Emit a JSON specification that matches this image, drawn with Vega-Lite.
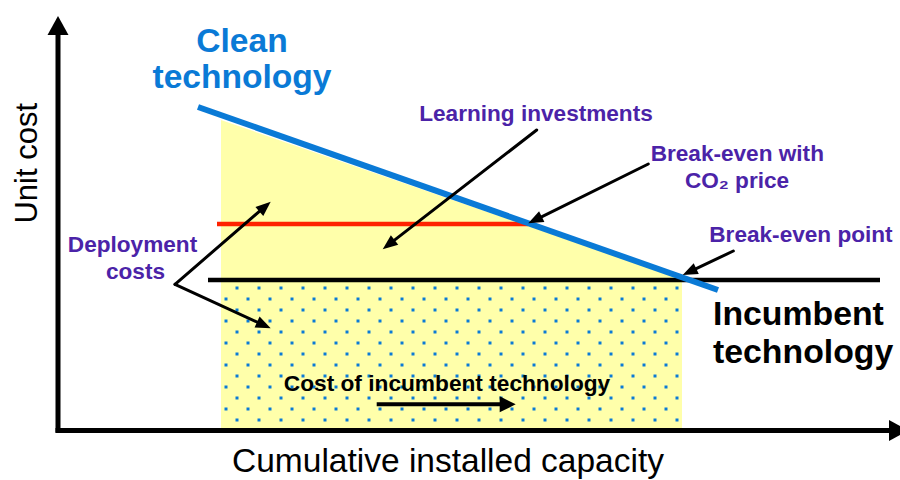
{
  "$schema": "https://vega.github.io/schema/vega-lite/v6.json",
  "width": 900,
  "height": 480,
  "autosize": {"type": "none"},
  "padding": 0,
  "background": "white",
  "config": {"view": {"stroke": null}},
  "encoding": {
    "x": {"field": "x", "type": "quantitative", "scale": {"domain": [0, 900], "nice": false, "zero": false}, "axis": null},
    "y": {"field": "y", "type": "quantitative", "scale": {"domain": [0, 480], "nice": false, "zero": false}, "axis": null}
  },
  "layer": [
    {
      "data": {"values": [{"x": 221, "y": 360, "y2": 50}, {"x": 682, "y": 201, "y2": 50}]},
      "mark": {"type": "area", "color": "#ffffaa", "opacity": 1},
      "encoding": {"y2": {"field": "y2"}}
    },
    {
      "data": {"values": [
        {"x":237,"y":192},{"x":259,"y":192},{"x":281,"y":192},{"x":303,"y":192},{"x":325,"y":192},{"x":347,"y":192},{"x":369,"y":192},{"x":391,"y":192},{"x":413,"y":192},{"x":435,"y":192},{"x":457,"y":192},{"x":479,"y":192},{"x":501,"y":192},{"x":523,"y":192},{"x":545,"y":192},{"x":567,"y":192},{"x":589,"y":192},{"x":611,"y":192},{"x":633,"y":192},{"x":655,"y":192},{"x":677,"y":192},
        {"x":226,"y":181},{"x":248,"y":181},{"x":270,"y":181},{"x":292,"y":181},{"x":314,"y":181},{"x":336,"y":181},{"x":358,"y":181},{"x":380,"y":181},{"x":402,"y":181},{"x":424,"y":181},{"x":446,"y":181},{"x":468,"y":181},{"x":490,"y":181},{"x":512,"y":181},{"x":534,"y":181},{"x":556,"y":181},{"x":578,"y":181},{"x":600,"y":181},{"x":622,"y":181},{"x":644,"y":181},{"x":666,"y":181},
        {"x":237,"y":170},{"x":259,"y":170},{"x":281,"y":170},{"x":303,"y":170},{"x":325,"y":170},{"x":347,"y":170},{"x":369,"y":170},{"x":391,"y":170},{"x":413,"y":170},{"x":435,"y":170},{"x":457,"y":170},{"x":479,"y":170},{"x":501,"y":170},{"x":523,"y":170},{"x":545,"y":170},{"x":567,"y":170},{"x":589,"y":170},{"x":611,"y":170},{"x":633,"y":170},{"x":655,"y":170},{"x":677,"y":170},
        {"x":226,"y":159},{"x":248,"y":159},{"x":270,"y":159},{"x":292,"y":159},{"x":314,"y":159},{"x":336,"y":159},{"x":358,"y":159},{"x":380,"y":159},{"x":402,"y":159},{"x":424,"y":159},{"x":446,"y":159},{"x":468,"y":159},{"x":490,"y":159},{"x":512,"y":159},{"x":534,"y":159},{"x":556,"y":159},{"x":578,"y":159},{"x":600,"y":159},{"x":622,"y":159},{"x":644,"y":159},{"x":666,"y":159},
        {"x":237,"y":148},{"x":259,"y":148},{"x":281,"y":148},{"x":303,"y":148},{"x":325,"y":148},{"x":347,"y":148},{"x":369,"y":148},{"x":391,"y":148},{"x":413,"y":148},{"x":435,"y":148},{"x":457,"y":148},{"x":479,"y":148},{"x":501,"y":148},{"x":523,"y":148},{"x":545,"y":148},{"x":567,"y":148},{"x":589,"y":148},{"x":611,"y":148},{"x":633,"y":148},{"x":655,"y":148},{"x":677,"y":148},
        {"x":226,"y":137},{"x":248,"y":137},{"x":270,"y":137},{"x":292,"y":137},{"x":314,"y":137},{"x":336,"y":137},{"x":358,"y":137},{"x":380,"y":137},{"x":402,"y":137},{"x":424,"y":137},{"x":446,"y":137},{"x":468,"y":137},{"x":490,"y":137},{"x":512,"y":137},{"x":534,"y":137},{"x":556,"y":137},{"x":578,"y":137},{"x":600,"y":137},{"x":622,"y":137},{"x":644,"y":137},{"x":666,"y":137},
        {"x":237,"y":126},{"x":259,"y":126},{"x":281,"y":126},{"x":303,"y":126},{"x":325,"y":126},{"x":347,"y":126},{"x":369,"y":126},{"x":391,"y":126},{"x":413,"y":126},{"x":435,"y":126},{"x":457,"y":126},{"x":479,"y":126},{"x":501,"y":126},{"x":523,"y":126},{"x":545,"y":126},{"x":567,"y":126},{"x":589,"y":126},{"x":611,"y":126},{"x":633,"y":126},{"x":655,"y":126},{"x":677,"y":126},
        {"x":226,"y":115},{"x":248,"y":115},{"x":270,"y":115},{"x":292,"y":115},{"x":314,"y":115},{"x":336,"y":115},{"x":358,"y":115},{"x":380,"y":115},{"x":402,"y":115},{"x":424,"y":115},{"x":446,"y":115},{"x":468,"y":115},{"x":490,"y":115},{"x":512,"y":115},{"x":534,"y":115},{"x":556,"y":115},{"x":578,"y":115},{"x":600,"y":115},{"x":622,"y":115},{"x":644,"y":115},{"x":666,"y":115},
        {"x":237,"y":104},{"x":259,"y":104},{"x":281,"y":104},{"x":303,"y":104},{"x":325,"y":104},{"x":347,"y":104},{"x":369,"y":104},{"x":391,"y":104},{"x":413,"y":104},{"x":435,"y":104},{"x":457,"y":104},{"x":479,"y":104},{"x":501,"y":104},{"x":523,"y":104},{"x":545,"y":104},{"x":567,"y":104},{"x":589,"y":104},{"x":611,"y":104},{"x":633,"y":104},{"x":655,"y":104},{"x":677,"y":104},
        {"x":226,"y":93},{"x":248,"y":93},{"x":270,"y":93},{"x":292,"y":93},{"x":314,"y":93},{"x":336,"y":93},{"x":358,"y":93},{"x":380,"y":93},{"x":402,"y":93},{"x":424,"y":93},{"x":446,"y":93},{"x":468,"y":93},{"x":490,"y":93},{"x":512,"y":93},{"x":534,"y":93},{"x":556,"y":93},{"x":578,"y":93},{"x":600,"y":93},{"x":622,"y":93},{"x":644,"y":93},{"x":666,"y":93},
        {"x":237,"y":82},{"x":259,"y":82},{"x":281,"y":82},{"x":303,"y":82},{"x":325,"y":82},{"x":347,"y":82},{"x":369,"y":82},{"x":391,"y":82},{"x":413,"y":82},{"x":435,"y":82},{"x":457,"y":82},{"x":479,"y":82},{"x":501,"y":82},{"x":523,"y":82},{"x":545,"y":82},{"x":567,"y":82},{"x":589,"y":82},{"x":611,"y":82},{"x":633,"y":82},{"x":655,"y":82},{"x":677,"y":82},
        {"x":226,"y":71},{"x":248,"y":71},{"x":270,"y":71},{"x":292,"y":71},{"x":314,"y":71},{"x":336,"y":71},{"x":358,"y":71},{"x":380,"y":71},{"x":402,"y":71},{"x":424,"y":71},{"x":446,"y":71},{"x":468,"y":71},{"x":490,"y":71},{"x":512,"y":71},{"x":534,"y":71},{"x":556,"y":71},{"x":578,"y":71},{"x":600,"y":71},{"x":622,"y":71},{"x":644,"y":71},{"x":666,"y":71},
        {"x":237,"y":60},{"x":259,"y":60},{"x":281,"y":60},{"x":303,"y":60},{"x":325,"y":60},{"x":347,"y":60},{"x":369,"y":60},{"x":391,"y":60},{"x":413,"y":60},{"x":435,"y":60},{"x":457,"y":60},{"x":479,"y":60},{"x":501,"y":60},{"x":523,"y":60},{"x":545,"y":60},{"x":567,"y":60},{"x":589,"y":60},{"x":611,"y":60},{"x":633,"y":60},{"x":655,"y":60},{"x":677,"y":60}
      ]},
      "mark": {"type": "square", "size": 9, "color": "#0a7ad6", "opacity": 1, "strokeWidth": 0}
    },
    {
      "data": {"values": [{"x": 208, "y": 200, "x2": 880, "y2": 200}]},
      "mark": {"type": "rule", "color": "#000000", "strokeWidth": 4.5},
      "encoding": {"x2": {"field": "x2"}, "y2": {"field": "y2"}}
    },
    {
      "data": {"values": [{"x": 217, "y": 256, "x2": 528, "y2": 256}]},
      "mark": {"type": "rule", "color": "#ff2200", "strokeWidth": 4.5},
      "encoding": {"x2": {"field": "x2"}, "y2": {"field": "y2"}}
    },
    {
      "data": {"values": [{"x": 198, "y": 373, "x2": 718, "y2": 190}]},
      "mark": {"type": "rule", "color": "#0a7ad6", "strokeWidth": 6},
      "encoding": {"x2": {"field": "x2"}, "y2": {"field": "y2"}}
    },
    {
      "data": {"values": [{"x": 58, "y": 47.5, "x2": 58, "y2": 454}, {"x": 55.5, "y": 49.5, "x2": 898, "y2": 49.5}]},
      "mark": {"type": "rule", "color": "#000000", "strokeWidth": 5},
      "encoding": {"x2": {"field": "x2"}, "y2": {"field": "y2"}}
    },
    {
      "data": {"values": [
        {"x": 536.7, "y": 350, "x2": 389, "y2": 235.6},
        {"x": 648.3, "y": 316, "x2": 535.5, "y2": 260.2},
        {"x": 733.3, "y": 229, "x2": 689.9, "y2": 208.4},
        {"x": 175, "y": 195.7, "x2": 264.6, "y2": 273.1},
        {"x": 175, "y": 195.7, "x2": 263.4, "y2": 155}
      ]},
      "mark": {"type": "rule", "color": "#000000", "strokeWidth": 3, "strokeCap": "round"},
      "encoding": {"x2": {"field": "x2"}, "y2": {"field": "y2"}}
    },
    {
      "data": {"values": [{"x": 376.7, "y": 75.7, "x2": 505.7, "y2": 75.7}]},
      "mark": {"type": "rule", "color": "#000000", "strokeWidth": 4},
      "encoding": {"x2": {"field": "x2"}, "y2": {"field": "y2"}}
    },
    {
      "data": {"values": [
        {"x": 382.7, "y": 230.7, "sx": 536.7, "sy": 350},
        {"x": 528.3, "y": 256.7, "sx": 648.3, "sy": 316},
        {"x": 682.7, "y": 205, "sx": 733.3, "sy": 229},
        {"x": 270.7, "y": 278.3, "sx": 175, "sy": 195.7},
        {"x": 270.7, "y": 151.7, "sx": 175, "sy": 195.7}
      ]},
      "transform": [{"calculate": "atan2(datum.x - datum.sx, datum.y - datum.sy) * 180 / PI", "as": "a"}],
      "mark": {"type": "point", "shape": "M0,0L-1,2.5L1,2.5Z", "size": 144, "filled": true, "color": "#000000", "opacity": 1, "strokeWidth": 0},
      "encoding": {"angle": {"field": "a", "type": "quantitative", "scale": null}}
    },
    {
      "data": {"values": [{"x": 515.7, "y": 75.7, "sx": 376.7, "sy": 75.7}]},
      "transform": [{"calculate": "atan2(datum.x - datum.sx, datum.y - datum.sy) * 180 / PI", "as": "a"}],
      "mark": {"type": "point", "shape": "M0,0L-1,2L1,2Z", "size": 256, "filled": true, "color": "#000000", "opacity": 1, "strokeWidth": 0},
      "encoding": {"angle": {"field": "a", "type": "quantitative", "scale": null}}
    },
    {
      "data": {"values": [{"x": 58, "y": 464, "sx": 58, "sy": 47.5}, {"x": 908, "y": 49.5, "sx": 55.5, "sy": 49.5}]},
      "transform": [{"calculate": "atan2(datum.x - datum.sx, datum.y - datum.sy) * 180 / PI", "as": "a"}],
      "mark": {"type": "point", "shape": "M0,0L-1,1.81L1,1.81Z", "size": 441, "filled": true, "color": "#000000", "opacity": 1, "strokeWidth": 0},
      "encoding": {"angle": {"field": "a", "type": "quantitative", "scale": null}}
    },
    {
      "data": {"values": [{"x": 242, "y": 428, "t": "Clean"}, {"x": 242, "y": 391.7, "t": "technology"}]},
      "mark": {"type": "text", "font": "Liberation Sans", "fontWeight": "bold", "fontSize": 33.6, "color": "#0a7ad6", "align": "center", "baseline": "alphabetic"},
      "encoding": {"text": {"field": "t"}}
    },
    {
      "data": {"values": [{"x": 713, "y": 155, "t": "Incumbent"}, {"x": 713, "y": 117, "t": "technology"}]},
      "mark": {"type": "text", "font": "Liberation Sans", "fontWeight": "bold", "fontSize": 33.8, "color": "#000000", "align": "left", "baseline": "alphabetic"},
      "encoding": {"text": {"field": "t"}}
    },
    {
      "data": {"values": [
        {"x": 536, "y": 359.3, "t": "Learning investments"},
        {"x": 737.3, "y": 319.3, "t": "Break-even with"},
        {"x": 737, "y": 291.7, "t": "CO₂ price"},
        {"x": 132.5, "y": 228.3, "t": "Deployment"},
        {"x": 135.5, "y": 200.7, "t": "costs"}
      ]},
      "mark": {"type": "text", "font": "Liberation Sans", "fontWeight": "bold", "fontSize": 22.6, "color": "#4b23a8", "align": "center", "baseline": "alphabetic"},
      "encoding": {"text": {"field": "t"}}
    },
    {
      "data": {"values": [{"x": 709.3, "y": 238.3, "t": "Break-even point"}]},
      "mark": {"type": "text", "font": "Liberation Sans", "fontWeight": "bold", "fontSize": 22.6, "color": "#4b23a8", "align": "left", "baseline": "alphabetic"},
      "encoding": {"text": {"field": "t"}}
    },
    {
      "data": {"values": [{"x": 447, "y": 89.3, "t": "Cost of incumbent technology"}]},
      "mark": {"type": "text", "font": "Liberation Sans", "fontWeight": "bold", "fontSize": 22.7, "color": "#000000", "align": "center", "baseline": "alphabetic"},
      "encoding": {"text": {"field": "t"}}
    },
    {
      "data": {"values": [{"x": 448, "y": 8, "t": "Cumulative installed capacity"}]},
      "mark": {"type": "text", "font": "Liberation Sans", "fontSize": 33.5, "color": "#000000", "align": "center", "baseline": "alphabetic"},
      "encoding": {"text": {"field": "t"}}
    },
    {
      "data": {"values": [{"x": 37, "y": 316.7, "t": "Unit cost"}]},
      "mark": {"type": "text", "font": "Liberation Sans", "fontSize": 31, "color": "#000000", "align": "center", "baseline": "alphabetic", "angle": 270},
      "encoding": {"text": {"field": "t"}}
    }
  ]
}
